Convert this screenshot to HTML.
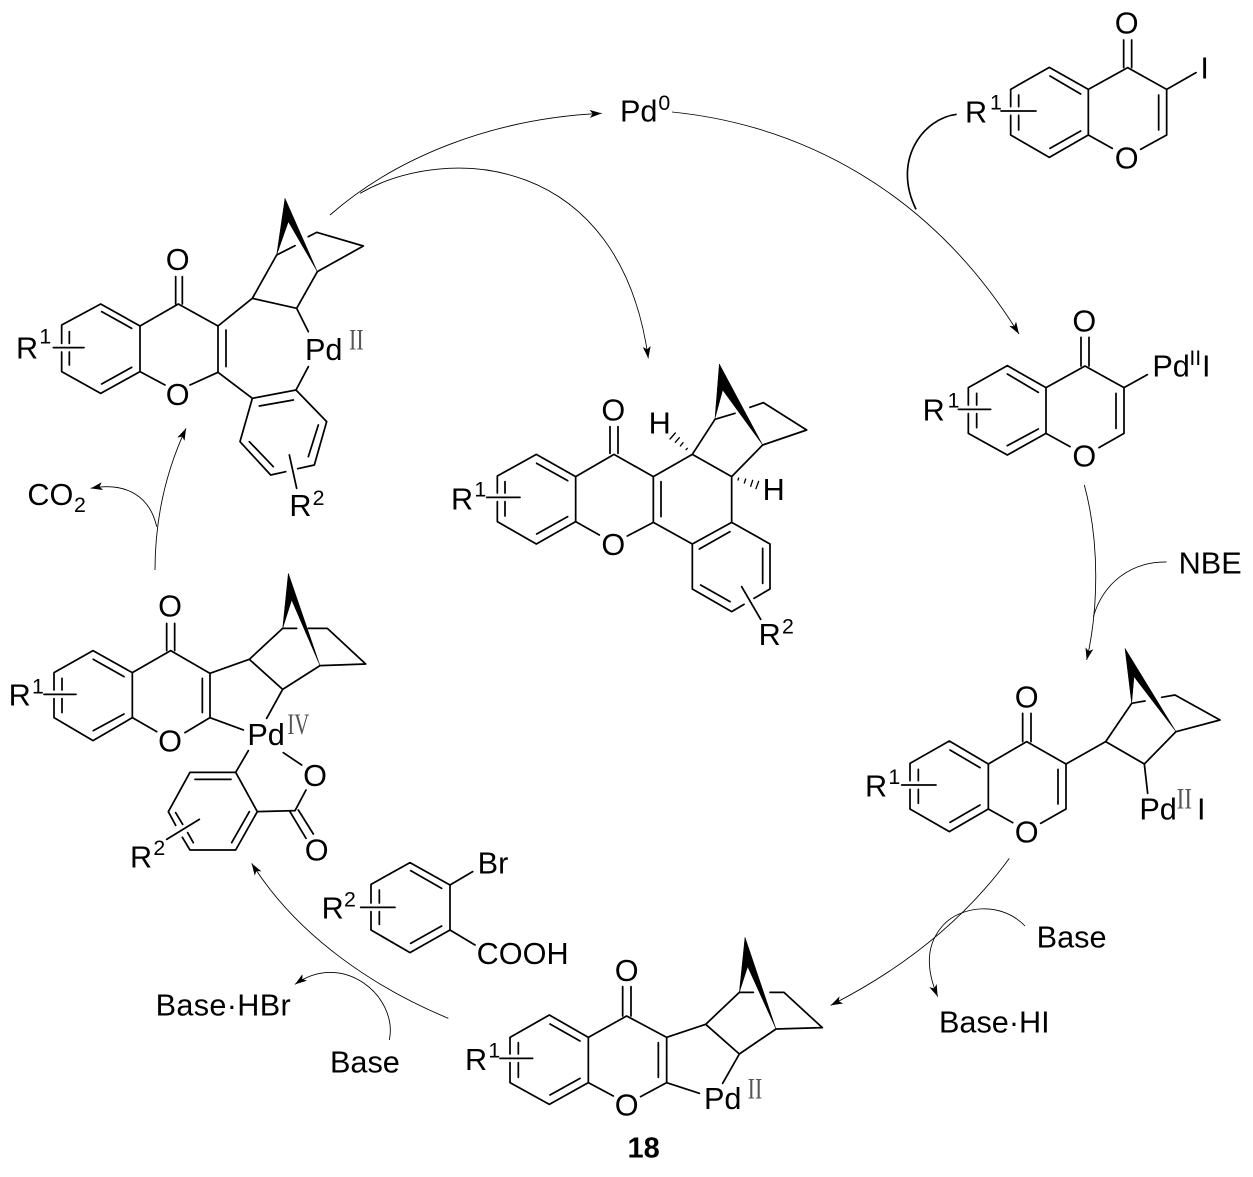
<!DOCTYPE html>
<html><head><meta charset="utf-8"><style>
html,body{margin:0;padding:0;background:#fff}
svg{display:block}
.b{fill:none;stroke:#000;stroke-width:5.2;stroke-linecap:round;stroke-linejoin:round}
.a{fill:none;stroke:#000;stroke-width:2.6}
.w{fill:#000;stroke:#000;stroke-width:1.5;stroke-linejoin:round}
text{font-family:"Liberation Sans",sans-serif;font-size:92px;fill:#000}
.s{font-size:64px}
.m{text-anchor:middle}
.r{font-family:"Liberation Serif",serif;font-size:88px;fill:#555}
.k{font-weight:bold;font-size:87px}
</style></head><body>
<svg xmlns="http://www.w3.org/2000/svg" width="1253" height="1177" viewBox="0 0 1253 1177">
<defs>
<marker id="h" markerUnits="userSpaceOnUse" markerWidth="36" markerHeight="24" viewBox="0 0 36 24" refX="36" refY="12" orient="auto">
<path d="M36,12 L0,0 L9,12 L0,24 Z" fill="#000"/>
</marker>
</defs>

<!-- A: top-left -->
<g transform="translate(0,180) scale(.33333)">
<path class="b" d="M185,490L185,435L302,372L420,438L420,575L302,640L185,575L185,516M305,395L395,445M305,612L395,562M208,455L208,490M208,516L208,555M160,503L252,503"/>
<path class="b" d="M527,290L527,372M547,290L547,372M420,438L535,372L654,438L654,577M678,450L678,560M420,575L495,615M570,615L654,577M654,438L757,355L890,385L925,455M757,355L830,225M890,385L952,275M830,225L885,197M925,170L950,157L1090,198L952,275"/>
<path class="w" d="M855,55L952,275L865,125L830,225Z"/>
<path class="b" d="M654,577L757,655L888,630L980,725L943,855L893,866M857,875L812,885L720,785L757,655M778,678L880,660M955,735L925,830M748,785L820,860M888,630L925,560M868,825L890,925"/>
<text x="48" y="535">R</text><text class="s" x="118" y="490">1</text>
<text class="m" x="533" y="270">O</text><text class="m" x="533" y="675">O</text>
<text x="915" y="540">Pd</text><text class="r" x="1047" y="508" textLength="44" lengthAdjust="spacingAndGlyphs">II</text>
<text x="868" y="1008">R</text><text class="s" x="938" y="975">2</text>
<text x="82" y="975">CO</text><text class="s" x="222" y="996">2</text>
</g>

<!-- B: centre product -->
<g transform="translate(440,350) scale(.33333)">
<path class="b" d="M172,429L172,378L289,313L407,380L407,515L289,582L172,515L172,455M290,340L383,392M290,552L383,500M195,395L195,429M195,455L195,498M140,442L240,442"/>
<path class="b" d="M510,230L510,310M534,230L534,310M407,380L522,313L640,380L640,517M663,395L663,500M407,515L478,555M562,558L640,517M640,380L757,313L875,380L875,517L757,582L640,517M778,597L870,545M875,517L990,582L990,717L942,745M912,763L875,785L757,717L757,582M968,595L968,700M782,705L870,755M905,710L962,808M757,313L825,208M875,380L968,285M825,208L885,190M930,172L970,158L1100,240L968,285"/>
<path class="w" d="M838,42L968,285L848,120L825,205Z"/>
<path class="b" style="stroke-width:4" d="M738,299L742,295M721,288L729,278M706,277L718,263M690,267L706,249M896,384L894,390M917,387L913,399M938,391L932,409M956,394L948,416"/>
<text x="33" y="478">R</text><text class="s" x="103" y="440">1</text>
<text class="m" x="520" y="212">O</text><text class="m" x="520" y="615">O</text>
<text x="626" y="250">H</text><text x="968" y="450">H</text>
<text x="956" y="885">R</text><text class="s" x="1026" y="850">2</text>
</g>

<!-- C: left -->
<g transform="translate(0,560) scale(.33333)">
<path class="b" d="M162,390L162,338L279,272L397,338L397,473L279,542L162,473L162,416M280,298L372,350M280,512L372,462M186,355L186,390M186,416L186,458M132,403L228,403"/>
<path class="b" d="M500,190L500,272M524,190L524,272M397,338L512,272L630,340L630,473M607,355L607,458M397,473L470,515M555,518L630,473M630,340L748,298L848,388L960,317M748,298L848,205M848,388L800,475M630,473L730,510M848,205L890,205M925,205L982,205L1097,312L960,317"/>
<path class="w" d="M865,40L960,317L875,120L848,205Z"/>
<path class="b" d="M745,572L707,637L772,755L707,870L570,870L547,832M527,796L505,755L570,637L707,637M585,658L693,658M748,755L695,848M527,758L548,793M563,818L580,848M500,838L598,778M850,578L905,615M918,690L885,752L772,755M870,755L918,835M895,750L940,822"/>
<text x="26" y="437">R</text><text class="s" x="96" y="400">1</text>
<text class="m" x="510" y="170">O</text><text class="m" x="510" y="575">O</text>
<text x="742" y="555">Pd</text><text class="r" x="862" y="522" textLength="66" lengthAdjust="spacingAndGlyphs">IV</text>
<text class="m" x="945" y="678">O</text><text class="m" x="950" y="902">O</text>
<text x="390" y="922">R</text><text class="s" x="460" y="885">2</text>
</g>

<!-- D: right -->
<g transform="translate(850,640) scale(.33333)">
<path class="b" d="M180,422L180,370L298,303L415,372L415,507L298,575L180,507L180,448M300,330L390,383M300,547L390,495M205,388L205,422M205,448L205,490M155,435L258,435"/>
<path class="b" d="M518,220L518,305M543,220L543,305M415,372L530,305L648,372L648,507M624,388L624,492M415,507L488,548M572,550L648,507M648,372L767,305L883,372L978,275M767,305L845,190M883,372L893,460M845,190L885,183M935,172L975,165L1110,240L978,275"/>
<path class="w" d="M825,25L978,275L852,110L845,190Z"/>
<text x="45" y="470">R</text><text class="s" x="115" y="432">1</text>
<text class="m" x="530" y="202">O</text><text class="m" x="530" y="607">O</text>
<text x="868" y="538">Pd</text><text class="r" x="980" y="505" textLength="46" lengthAdjust="spacingAndGlyphs">II</text><text x="1041" y="538">I</text>
</g>

<!-- E: bottom -->
<g transform="translate(450,930) scale(.33333)">
<path class="b" d="M180,372L180,322L298,255L415,322L415,458L298,523L180,458L180,398M300,282L390,333M300,495L390,445M205,338L205,372M205,398L205,442M150,385L248,385"/>
<path class="b" d="M518,170L518,258M543,170L543,258M415,322L530,258L650,322L650,458M625,338L625,442M415,458L490,498M572,500L650,458M650,322L767,283L868,372L978,297M767,283L868,187M868,372L818,460M650,458L748,490M868,187L910,187M960,187L1002,187L1117,293L978,297"/>
<path class="w" d="M885,22L978,297L893,110L868,187Z"/>
<text x="45" y="420">R</text><text class="s" x="115" y="382">1</text>
<text class="m" x="530" y="153">O</text><text class="m" x="530" y="557">O</text>
<text x="762" y="537">Pd</text><text class="r" x="893" y="505" textLength="44" lengthAdjust="spacingAndGlyphs">II</text>
<text class="k m" x="581" y="682">18</text>
</g>

<!-- F, G: top right -->
<g transform="translate(900,0) scale(.33333)">
<path class="b" d="M332,320L332,268L448,202L565,268L565,405L448,472L332,405L332,346M450,228L542,282M450,445L542,393M356,285L356,320M356,346L356,390M303,333L408,333"/>
<path class="b" d="M671,120L671,203M695,120L695,203M565,268L683,203L800,268L800,405M776,285L776,390M565,405L637,445M722,448L800,405M800,268L888,218"/>
<text x="195" y="367">R</text><text class="s" x="270" y="328">1</text>
<text class="m" x="680" y="100">O</text><text class="m" x="680" y="505">O</text><text x="901" y="235">I</text>
<path d="M170,343C70,355 -25,480 48,628" fill="none" stroke="#000" stroke-width="5"/>

<path class="b" d="M205,1215L205,1163L322,1097L438,1163L438,1300L322,1365L205,1300L205,1241M322,1122L415,1177M322,1337L415,1287M230,1180L230,1215M230,1241L230,1283M175,1228L272,1228"/>
<path class="b" d="M543,1012L543,1098M567,1012L567,1098M438,1163L555,1098L672,1163L672,1300M648,1180L648,1285M438,1300L510,1340M597,1343L672,1300M672,1163L742,1124"/>
<text x="68" y="1262">R</text><text class="s" x="143" y="1222">1</text>
<text class="m" x="553" y="995">O</text><text class="m" x="553" y="1400">O</text>
<text x="757" y="1130">Pd</text><text class="s" x="868" y="1095">II</text><text x="906" y="1130">I</text>
</g>

<!-- bromoacid & bottom-left reagents -->
<g transform="translate(140,840) scale(.33333)">
<path class="b" d="M693,189L693,133L810,68L930,135L930,270L810,338L693,270L693,215M812,92L905,145M812,310L905,258M718,150L718,189M718,215L718,253M662,202L765,202M930,135L998,95M930,270L1005,315"/>
<text x="545" y="235">R</text><text class="s" x="612" y="200">2</text>
<text x="1013" y="100">Br</text><text x="1010" y="372">COOH</text>
<text x="47" y="527" textLength="405">Base·HBr</text>
<text x="570" y="697">Base</text>
<path class="a" d="M925,535C720,450 480,300 335,70" marker-end="url(#h)"/>
<path class="a" d="M748,600C775,470 610,330 465,433" marker-end="url(#h)"/>
</g>

<!-- top arrows -->
<g transform="translate(320,80) scale(.33333)">
<text x="900" y="125">Pd</text><text class="s" x="1015" y="90">0</text>
<path class="a" d="M30,405C230,230 520,115 845,100" marker-end="url(#h)"/>
<path class="a" d="M120,340C380,190 900,220 985,835" marker-end="url(#h)"/>
</g>

<g transform="scale(.33333)">
<path class="a" d="M2016,336C2400,375 2790,570 3057,1002" marker-end="url(#h)"/>
</g>

<g transform="translate(820,470) scale(.33333)">
<text x="1076" y="310">NBE</text>
<path class="a" d="M793,45C840,220 835,420 800,570" marker-end="url(#h)"/>
<path class="a" d="M1040,276C930,275 850,340 820,440"/>
</g>

<g transform="translate(820,850) scale(.33333)">
<text x="650" y="293">Base</text>
<text x="357" y="547" textLength="332">Base·HI</text>
<path class="a" d="M568,25C440,200 260,350 32,466" marker-end="url(#h)"/>
<path class="a" d="M615,228C540,150 420,170 370,225C320,280 315,350 353,440" marker-end="url(#h)"/>
</g>

<g transform="translate(0,180) scale(.33333)">
<path class="a" d="M465,1170C465,1020 495,880 558,745" marker-end="url(#h)"/>
<path class="a" d="M470,1040C450,950 380,905 272,925" marker-end="url(#h)"/>
</g>
</svg>
</body></html>
